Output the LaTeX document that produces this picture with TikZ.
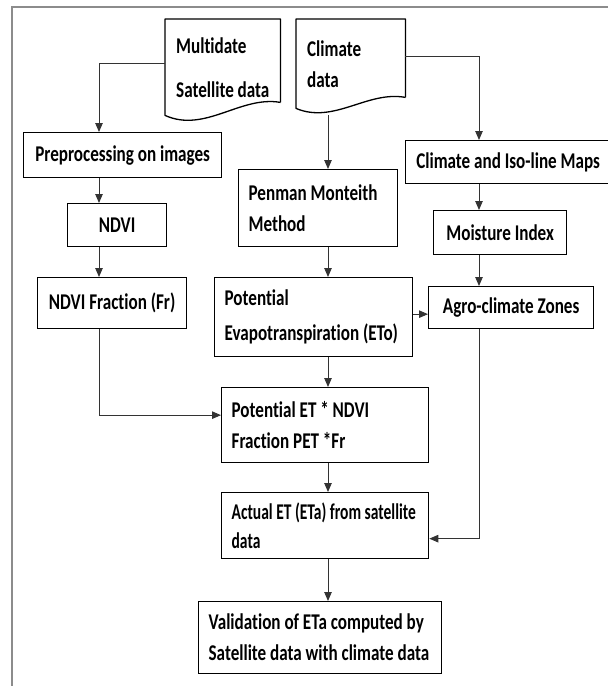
\documentclass[tikz,border=0pt]{standalone}
\usepackage{fontspec}
\newfontfamily\chartfont{Carlito}[FakeStretch=0.76, Ligatures=CommonOff]
\newfontfamily\thinfont{Carlito}[FakeStretch=0.69, Ligatures=CommonOff]
\usetikzlibrary{arrows.meta}

\tikzset{
  box/.style={draw, rectangle, line width=1.3pt, anchor=north west, inner sep=0pt, align=center},
  lbox/.style={box, align=flush left, inner xsep=10pt},
  doc/.style={rectangle, anchor=north west, inner sep=0pt, inner xsep=11pt, align=flush left},
  docline/.style={line width=1.3pt, line join=round},
  arr/.style={-{Triangle[length=9pt,width=7.5pt]}, line width=0.9pt, black!80},
  frame/.style={line width=2pt, black!45}
}

\begin{document}
\begin{tikzpicture}[x=1pt, y=-1pt, font=\chartfont\bfseries\fontsize{22.5}{31}\selectfont]
        \useasboundingbox (0,0) rectangle (608,686);
        \draw[frame] (12,686) -- (12,7) -- (608,7);

        % arrow columns
        \coordinate (lcol) at (99,0);
        \coordinate (mcol) at (328,0);
        \coordinate (rcol) at (479,0);

        % input documents
        \node[doc, text width=93pt, minimum height=96pt] (sat) at (165,19) {Multidate\\[13pt]\mbox{Satellite data}};
        \node[doc, text width=87pt, minimum height=89pt] (clim) at (296,19) {Climate\\data};
        \draw[docline] ([yshift=13pt]sat.south east) -- (sat.north east) -- (sat.north west) -- (sat.south west)
            .. controls ([xshift=40pt,yshift=-18pt]sat.south west) and ([xshift=-40pt,yshift=20pt]sat.south east) .. ([yshift=13pt]sat.south east);
        \draw[docline] ([yshift=11pt]clim.south east) -- (clim.north east) -- (clim.north west) -- (clim.south west)
            .. controls ([xshift=38pt,yshift=-16pt]clim.south west) and ([xshift=-38pt,yshift=18pt]clim.south east) .. ([yshift=11pt]clim.south east);

        % left column
        \node[box, minimum width=198pt, minimum height=45pt] (prep) at (23,132) {Preprocessing on images};
        \node[box, minimum width=99pt, minimum height=43pt] (ndvi) at (67,203) {NDVI};
        \node[box, minimum width=149pt, minimum height=51pt] (frac) at (37,277) {NDVI Fraction (Fr)};

        % middle column
        \node[lbox, text width=139pt, minimum height=77pt] (penman) at (238,169) {Penman Monteith\\Method};
        \node[lbox, text width=178pt, minimum height=79pt] (pot) at (214,277) {Potential\\[4pt]\mbox{Evapotranspiration (ETo)}};
        \node[lbox, text width=187pt, minimum height=75pt] (pet) at (221,387) {Potential ET * NDVI\\Fraction PET *Fr};
        \node[lbox, text width=187pt, minimum height=66pt, font=\thinfont\bfseries\fontsize{22.5}{29}\selectfont] (actual) at (221,492) {\mbox{Actual ET (ETa) from satellite}\\data};
        \node[lbox, text width=223pt, minimum height=72pt] (valid) at (198,601) {\mbox{Validation of ETa computed by}\\\mbox{Satellite data with climate data}};

        % right column
        \node[box, minimum width=205pt, minimum height=43pt] (iso) at (405,140) {Climate and Iso-line Maps};
        \node[box, minimum width=133pt, minimum height=44pt] (moist) at (433,210) {Moisture Index};
        \node[box, minimum width=165pt, minimum height=42pt] (agro) at (428,286) {Agro-climate Zones};

        \draw[arr] ([yshift=4pt]sat.west) -| (prep.north -| lcol);
        \draw[arr] (prep.south -| lcol) -- (ndvi.north -| lcol);
        \draw[arr] (ndvi.south -| lcol) -- (frac.north -| lcol);
        \draw[arr] (frac.south -| lcol) |- ([yshift=10pt]pet.west);

        \draw[arr] ([yshift=-7pt]clim.south -| mcol) -- (penman.north -| mcol);
        \draw[arr] (penman.south -| mcol) -- (pot.north -| mcol);
        \draw[arr] (pot.south -| mcol) -- (pet.north -| mcol);
        \draw[arr] (pet.south -| mcol) -- (actual.north -| mcol);
        \draw[arr] (actual.south -| mcol) -- (valid.north -| mcol);

        \draw[arr] ([yshift=7pt]clim.east) -| (iso.north -| rcol);
        \draw[arr] (iso.south -| rcol) -- (moist.north -| rcol);
        \draw[arr] (moist.south -| rcol) -- (agro.north -| rcol);
        \draw[arr] ([yshift=3pt]pot.east) -- ([yshift=3pt]pot.east -| agro.west);
        \draw[arr] (agro.south -| rcol) |- ([yshift=-13pt]actual.east);
    \end{tikzpicture}
\end{document}
